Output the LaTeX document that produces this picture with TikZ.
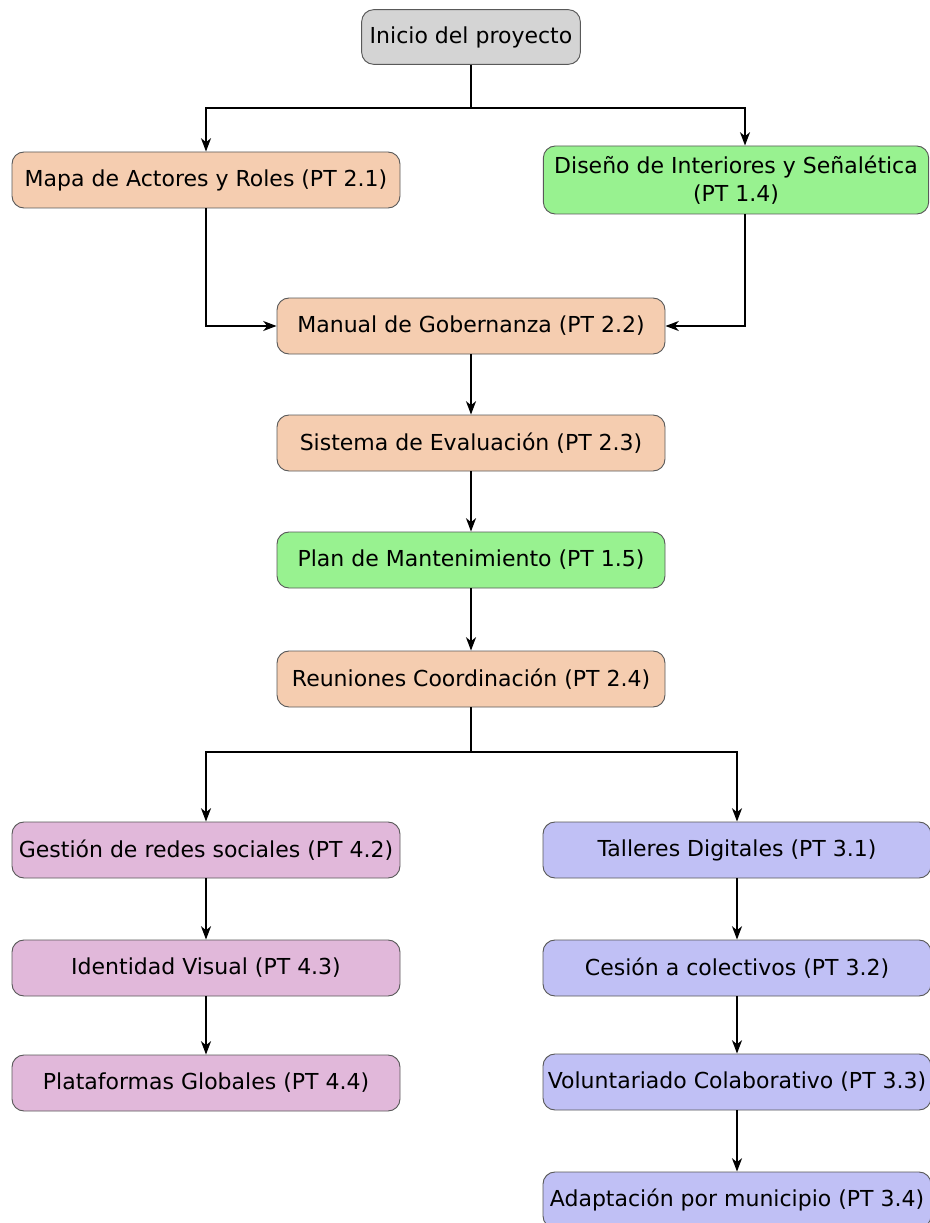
\documentclass[tikz,border=0pt]{standalone}
\usepackage{fontspec}
\setmainfont{DejaVu Sans}
\usetikzlibrary{arrows.meta}
\definecolor{inicioGray}{HTML}{D4D4D4}
\definecolor{ptPeach}{HTML}{F5CDB0}
\definecolor{ptGreen}{HTML}{98F290}
\definecolor{ptPink}{HTML}{E1B8DA}
\definecolor{ptLilac}{HTML}{C0C0F5}
\begin{document}
\begin{tikzpicture}[x=0.75pt,y=-0.75pt,
  box/.style={shape=rectangle,rounded corners=9pt,draw=black!65,line width=0.7pt,
    minimum width=291pt,minimum height=42pt,align=center,inner xsep=1pt,
    font=\fontsize{16.5}{21}\selectfont},
  flow/.style={-{Stealth[length=10pt,width=7.5pt,inset=3pt]},line width=1.4pt}]
\useasboundingbox (0,0) rectangle (929,1223);

\node(inicio) at (471,37)[box,fill=inicioGray,minimum width=164pt,minimum height=41pt] {Inicio del proyecto};
\node(mapa) at (206,180)[box,fill=ptPeach]   {Mapa de Actores y Roles (PT 2.1)};
\node(diseno) at (736,180)[box,fill=ptGreen,minimum width=289pt,minimum height=51pt] {Diseño de Interiores y Señalética\\(PT 1.4)};
\node(manual) at (471,326)[box,fill=ptPeach]  {Manual de Gobernanza (PT 2.2)};
\node(sistema) at (471,443)[box,fill=ptPeach] {Sistema de Evaluación (PT 2.3)};
\node(plan) at (471,560)[box,fill=ptGreen]    {Plan de Mantenimiento (PT 1.5)};
\node(reuniones) at (471,679)[box,fill=ptPeach] {Reuniones Coordinación (PT 2.4)};

\node(redes) at (206,850)[box,fill=ptPink]      {Gestión de redes sociales (PT 4.2)};
\node(identidad) at (206,968)[box,fill=ptPink]  {Identidad Visual (PT 4.3)};
\node(plataformas) at (206,1083)[box,fill=ptPink] {Plataformas Globales (PT 4.4)};

\node(talleres) at (737,850)[box,fill=ptLilac]  {Talleres Digitales (PT 3.1)};
\node(cesion) at (737,968)[box,fill=ptLilac]    {Cesión a colectivos (PT 3.2)};
\node(voluntariado) at (737,1082)[box,fill=ptLilac] {Voluntariado Colaborativo (PT 3.3)};
\node(adaptacion) at (737,1200)[box,fill=ptLilac]   {Adaptación por municipio (PT 3.4)};

\coordinate(split1) at (471,108);
\coordinate(split2) at (471,752);

% top split
\draw [line width=1.4pt] (inicio) -- (split1);
\draw [flow] (split1) -| ([xshift=6.75pt]diseno.north);
\draw [flow] (split1) -| (mapa);

% merge into the manual
\draw [flow] (mapa) |- (manual);
\draw [flow] ([xshift=6.75pt]diseno.south) |- (manual);

\path [flow]
  (manual)    edge (sistema)
  (sistema)   edge (plan)
  (plan)      edge (reuniones);

% lower split
\draw [line width=1.4pt] (reuniones) -- (split2);
\draw [flow] (split2) -| (redes);
\draw [flow] (split2) -| (talleres);

\path [flow]
  (redes)        edge (identidad)
  (identidad)    edge (plataformas)
  (talleres)     edge (cesion)
  (cesion)       edge (voluntariado)
  (voluntariado) edge (adaptacion);

\end{tikzpicture}
\end{document}
